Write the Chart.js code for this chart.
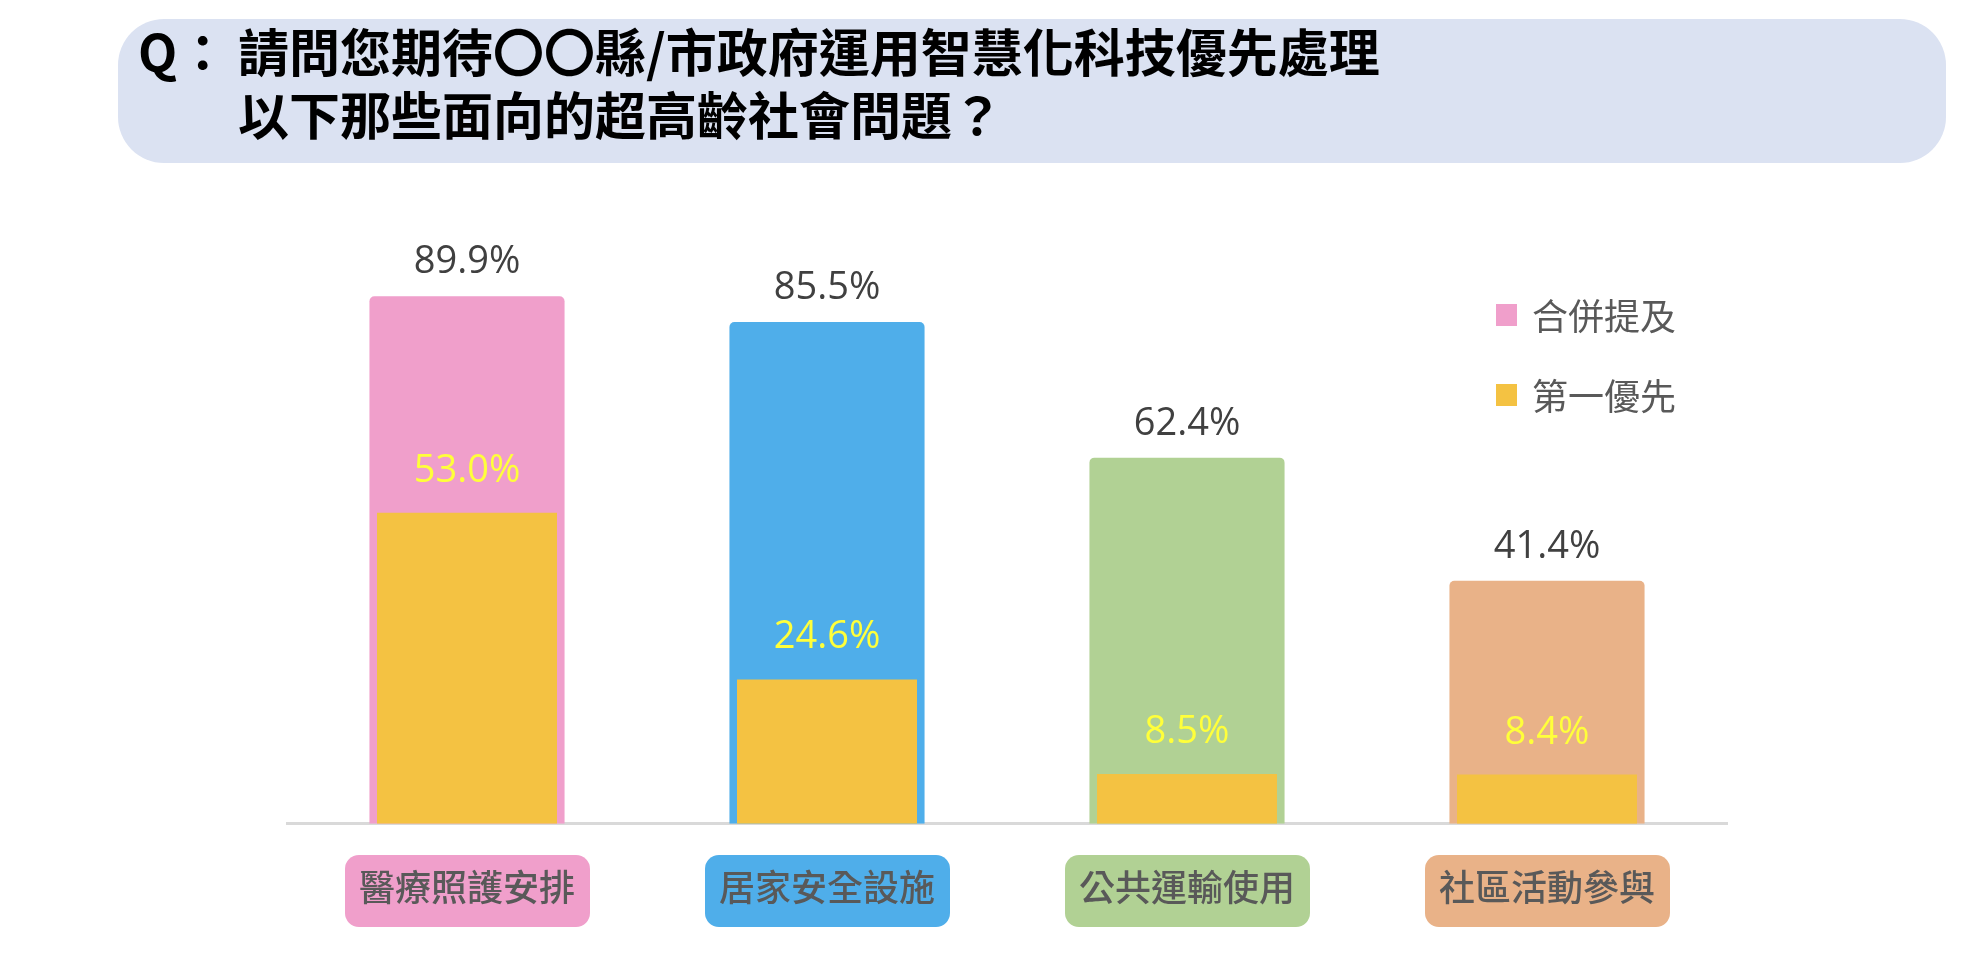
<!DOCTYPE html>
<html>
<head>
<meta charset="utf-8">
<script src="https://cdn.jsdelivr.net/npm/chart.js@4/dist/chart.umd.min.js"></script>
<style>
  html, body { margin: 0; padding: 0; background: #fff; overflow: hidden; }
  #wrap { position: relative; width: 1988px; height: 976px; }
  #title {
    position: absolute; left: 118px; top: 19px; width: 1828px; height: 144px;
    background: #dbe2f2; border-radius: 46px; box-sizing: border-box;
    font-family: "Noto Sans CJK TC", "Noto Sans", sans-serif; font-weight: 700;
    font-size: 51px; color: #000; line-height: 63px; padding-top: 0px;
  }
  #title .q { display: inline-block; width: 120px; padding-left: 20px; box-sizing: border-box; }
  #title .l2 { padding-left: 120px; }
</style>
</head>
<body>
<div id="wrap">
  <canvas id="bar-chart"></canvas>
  <div id="title"><div><span class="q">Q：</span>請問您期待〇〇縣/市政府運用智慧化科技優先處理</div><div class="l2">以下那些面向的超高齡社會問題？</div></div>
</div>
<script>
var categories = ["醫療照護安排", "居家安全設施", "公共運輸使用", "社區活動參與"]
var combinedValues = [89.9, 85.5, 62.4, 41.4]
var firstValues = [53.0, 24.6, 8.5, 8.4]
var seriesNames = ["合併提及", "第一優先"]
var barColors = ["#f09fcb", "#4faeea", "#b1d194", "#e9b288"]
var firstColor = "#f4c242"

// rounded colored boxes behind the category labels
var labelBoxes = {
  id: 'labelBoxes',
  beforeDraw: function(chart) {
    var ctx = chart.ctx
    var x = chart.scales.x
    ctx.save()
    categories.forEach(function(c, i) {
      var cx = x.getPixelForTick(i)
      ctx.fillStyle = barColors[i]
      ctx.beginPath()
      ctx.roundRect(cx - 122, 855, 245, 72, 14)
      ctx.fill()
    })
    ctx.restore()
  }
}

var valueLabels = {
  id: 'valueLabels',
  afterDatasetsDraw: function(chart) {
    var ctx = chart.ctx
    ctx.save()
    ctx.font = '38px "Open Sans", sans-serif'
    ctx.textAlign = 'center'
    ctx.textBaseline = 'alphabetic'
    chart.getDatasetMeta(0).data.forEach(function(bar, i) {
      ctx.fillStyle = '#404040'
      ctx.fillText(combinedValues[i].toFixed(1) + '%', bar.x, bar.y - 23)
    })
    chart.getDatasetMeta(1).data.forEach(function(bar, i) {
      ctx.fillStyle = '#ffff3a'
      ctx.fillText(firstValues[i].toFixed(1) + '%', bar.x, bar.y - 31)
    })
    ctx.restore()
  }
}

var sideLegend = {
  id: 'sideLegend',
  afterDraw: function(chart) {
    var ctx = chart.ctx
    var colors = [barColors[0], firstColor]
    ctx.save()
    ctx.font = '36px "Noto Sans CJK TC", sans-serif'
    ctx.textBaseline = 'middle'
    seriesNames.forEach(function(name, i) {
      var cy = 315 + i * 80
      ctx.fillStyle = colors[i]
      ctx.fillRect(1496, cy - 11, 21, 22)
      ctx.fillStyle = '#595959'
      ctx.fillText(name, 1532, cy + 1)
    })
    ctx.restore()
  }
}

new Chart(document.getElementById("bar-chart"), {
  type: 'bar',
  data: {
    labels: categories,
    datasets: [{
      label: seriesNames[0],
      data: combinedValues,
      backgroundColor: barColors,
      borderRadius: {topLeft: 5, topRight: 5},
      borderSkipped: 'bottom',
      barPercentage: 0.542,
      categoryPercentage: 1,
      grouped: false,
      order: 1
    }, {
      label: seriesNames[1],
      data: firstValues,
      backgroundColor: firstColor,
      barPercentage: 0.5,
      categoryPercentage: 1,
      grouped: false,
      order: 0
    }]
  },
  options: {
    responsive: true,
    maintainAspectRatio: false,
    animation: false,
    layout: { padding: { left: 287, right: 261, top: 237, bottom: 25 } },
    plugins: {
      legend: { display: false },
      tooltip: { enabled: false }
    },
    scales: {
      x: {
        grid: { display: false, drawTicks: false },
        border: { color: '#d9d9d9', width: 3 },
        ticks: {
          color: '#595959',
          padding: 42,
          font: { family: '"Noto Sans CJK TC", sans-serif', size: 36, weight: 500 }
        }
      },
      y: {
        display: false,
        min: 0,
        max: 100
      }
    }
  },
  plugins: [labelBoxes, valueLabels, sideLegend]
})
</script>
</body>
</html>
